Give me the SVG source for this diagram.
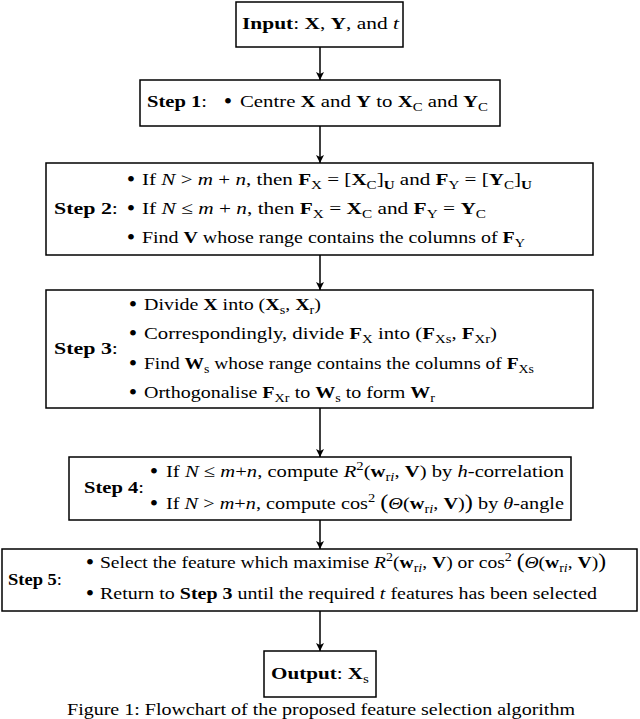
<svg xmlns="http://www.w3.org/2000/svg" width="640" height="719" viewBox="0 0 640 719">
<defs>
<style>
text{font-family:"Liberation Serif","Times New Roman",serif;font-size:17.5px;fill:#000}
.b{font-weight:bold}
.i{font-style:italic}
.sb{font-size:12.5px;baseline-shift:-4px}
.sp{font-size:12.5px;baseline-shift:7px}
.box{fill:#fff;stroke:#000;stroke-width:1.5}
.con{stroke:#000;stroke-width:1.5;fill:none;marker-end:url(#ah)}
.bl{text-anchor:middle;font-size:24px}
</style>
<marker id="ah" markerUnits="userSpaceOnUse" markerWidth="10" markerHeight="10" refX="8" refY="4" orient="auto">
<path d="M0,0 L8,4 L0,8 L2,4 Z" fill="#000"/>
</marker>
</defs>
<rect width="640" height="719" fill="#fff"/>
<g id="connectors">
<line class="con" x1="320" y1="47" x2="320" y2="80"/>
<line class="con" x1="320" y1="126" x2="320" y2="163"/>
<line class="con" x1="320" y1="255" x2="320" y2="290"/>
<line class="con" x1="320" y1="408" x2="320" y2="457"/>
<line class="con" x1="320" y1="520" x2="320" y2="549"/>
<line class="con" x1="320" y1="611" x2="320" y2="651"/>
</g>
<g id="input">
<rect class="box" x="236" y="2" width="167" height="45"/>
<text x="242" y="29" textLength="157" lengthAdjust="spacingAndGlyphs"><tspan class="b">Input</tspan>: <tspan class="b">X</tspan>, <tspan class="b">Y</tspan>, and <tspan class="i">t</tspan></text>
</g>
<g id="step1">
<rect class="box" x="140" y="80" width="360" height="46"/>
<text x="147" y="107" textLength="60" lengthAdjust="spacingAndGlyphs"><tspan class="b">Step 1</tspan>:</text>
<text class="bl" x="228" y="109">•</text>
<text x="240" y="107" textLength="248" lengthAdjust="spacingAndGlyphs">Centre <tspan class="b">X</tspan> and <tspan class="b">Y</tspan> to <tspan class="b">X</tspan><tspan class="sb">C</tspan> and <tspan class="b">Y</tspan><tspan class="sb">C</tspan></text>
</g>
<g id="step2">
<rect class="box" x="46" y="163" width="547" height="92"/>
<text x="54" y="214" textLength="64" lengthAdjust="spacingAndGlyphs"><tspan class="b">Step 2</tspan>:</text>
<text class="bl" x="131" y="187">•</text>
<text class="bl" x="131" y="216">•</text>
<text class="bl" x="131" y="245">•</text>
<text x="142" y="185" textLength="390" lengthAdjust="spacingAndGlyphs">If <tspan class="i">N</tspan> &gt; <tspan class="i">m</tspan> + <tspan class="i">n</tspan>, then <tspan class="b">F</tspan><tspan class="sb">X</tspan> = [<tspan class="b">X</tspan><tspan class="sb">C</tspan>]<tspan class="sb b">U</tspan> and <tspan class="b">F</tspan><tspan class="sb">Y</tspan> = [<tspan class="b">Y</tspan><tspan class="sb">C</tspan>]<tspan class="sb b">U</tspan></text>
<text x="142" y="214" textLength="344" lengthAdjust="spacingAndGlyphs">If <tspan class="i">N</tspan> ≤ <tspan class="i">m</tspan> + <tspan class="i">n</tspan>, then <tspan class="b">F</tspan><tspan class="sb">X</tspan> = <tspan class="b">X</tspan><tspan class="sb">C</tspan> and <tspan class="b">F</tspan><tspan class="sb">Y</tspan> = <tspan class="b">Y</tspan><tspan class="sb">C</tspan></text>
<text x="142" y="243" textLength="383" lengthAdjust="spacingAndGlyphs">Find <tspan class="b">V</tspan> whose range contains the columns of <tspan class="b">F</tspan><tspan class="sb">Y</tspan></text>
</g>
<g id="step3">
<rect class="box" x="46" y="290" width="547" height="118"/>
<text x="54" y="354" textLength="64" lengthAdjust="spacingAndGlyphs"><tspan class="b">Step 3</tspan>:</text>
<text class="bl" x="133" y="312">•</text>
<text class="bl" x="133" y="341">•</text>
<text class="bl" x="133" y="371">•</text>
<text class="bl" x="133" y="400">•</text>
<text x="144" y="310" textLength="177" lengthAdjust="spacingAndGlyphs">Divide <tspan class="b">X</tspan> into (<tspan class="b">X</tspan><tspan class="sb">s</tspan>, <tspan class="b">X</tspan><tspan class="sb">r</tspan>)</text>
<text x="144" y="339" textLength="353" lengthAdjust="spacingAndGlyphs">Correspondingly, divide <tspan class="b">F</tspan><tspan class="sb">X</tspan> into (<tspan class="b">F</tspan><tspan class="sb">Xs</tspan>, <tspan class="b">F</tspan><tspan class="sb">Xr</tspan>)</text>
<text x="144" y="369" textLength="390" lengthAdjust="spacingAndGlyphs">Find <tspan class="b">W</tspan><tspan class="sb">s</tspan> whose range contains the columns of <tspan class="b">F</tspan><tspan class="sb">Xs</tspan></text>
<text x="144" y="398" textLength="291" lengthAdjust="spacingAndGlyphs">Orthogonalise <tspan class="b">F</tspan><tspan class="sb">Xr</tspan> to <tspan class="b">W</tspan><tspan class="sb">s</tspan> to form <tspan class="b">W</tspan><tspan class="sb">r</tspan></text>
</g>
<g id="step4">
<rect class="box" x="69" y="457" width="502" height="63"/>
<text x="84" y="493" textLength="60" lengthAdjust="spacingAndGlyphs"><tspan class="b">Step 4</tspan>:</text>
<text class="bl" x="154" y="479">•</text>
<text class="bl" x="154" y="511">•</text>
<text x="166" y="477" textLength="398" lengthAdjust="spacingAndGlyphs">If <tspan class="i">N</tspan> ≤ <tspan class="i">m</tspan>+<tspan class="i">n</tspan>, compute <tspan class="i">R</tspan><tspan class="sp">2</tspan>(<tspan class="b">w</tspan><tspan class="sb">r<tspan class="i">i</tspan></tspan>, <tspan class="b">V</tspan>) by <tspan class="i">h</tspan>-correlation</text>
<text x="166" y="509" textLength="398" lengthAdjust="spacingAndGlyphs">If <tspan class="i">N</tspan> &gt; <tspan class="i">m</tspan>+<tspan class="i">n</tspan>, compute cos<tspan class="sp">2</tspan> <tspan font-size="21">(</tspan><tspan class="i">Θ</tspan>(<tspan class="b">w</tspan><tspan class="sb">r<tspan class="i">i</tspan></tspan>, <tspan class="b">V</tspan>)<tspan font-size="21">)</tspan> by <tspan class="i">θ</tspan>-angle</text>
</g>
<g id="step5">
<rect class="box" x="2" y="549" width="635" height="62"/>
<text x="8" y="585" textLength="54" lengthAdjust="spacingAndGlyphs"><tspan class="b">Step 5</tspan>:</text>
<text class="bl" x="90" y="570">•</text>
<text class="bl" x="90" y="601">•</text>
<text x="100" y="568" textLength="506" lengthAdjust="spacingAndGlyphs">Select the feature which maximise <tspan class="i">R</tspan><tspan class="sp">2</tspan>(<tspan class="b">w</tspan><tspan class="sb">r<tspan class="i">i</tspan></tspan>, <tspan class="b">V</tspan>) or cos<tspan class="sp">2</tspan> <tspan font-size="21">(</tspan><tspan class="i">Θ</tspan>(<tspan class="b">w</tspan><tspan class="sb">r<tspan class="i">i</tspan></tspan>, <tspan class="b">V</tspan>)<tspan font-size="21">)</tspan></text>
<text x="100" y="599" textLength="497" lengthAdjust="spacingAndGlyphs">Return to <tspan class="b">Step 3</tspan> until the required <tspan class="i">t</tspan> features has been selected</text>
</g>
<g id="output">
<rect class="box" x="264" y="651" width="112" height="46"/>
<text x="271" y="679" textLength="98" lengthAdjust="spacingAndGlyphs"><tspan class="b">Output</tspan>: <tspan class="b">X</tspan><tspan class="sb">s</tspan></text>
</g>
<text x="67" y="715" textLength="508" lengthAdjust="spacingAndGlyphs">Figure 1: Flowchart of the proposed feature selection algorithm</text>
</svg>
